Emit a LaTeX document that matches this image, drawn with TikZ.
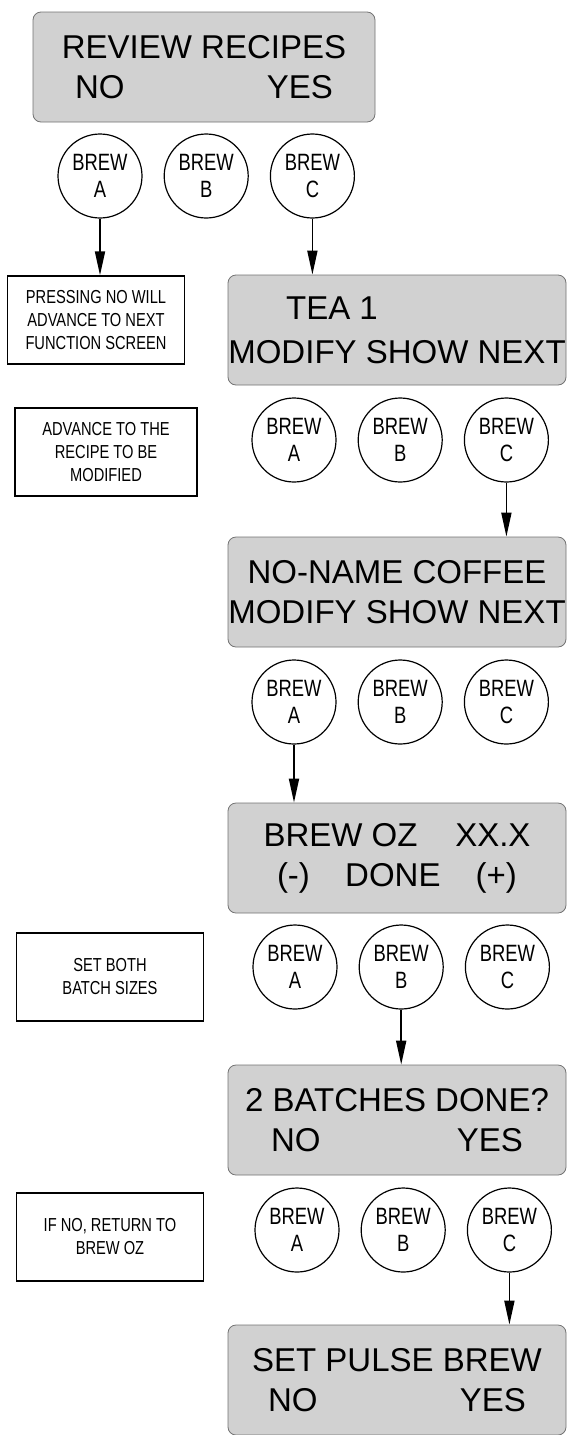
\documentclass[tikz,border=0pt]{standalone}
\usepackage{fontspec}
\setmainfont{Liberation Sans}
\newfontfamily\narrowfont[FakeStretch=0.78]{Liberation Sans}
\usetikzlibrary{arrows.meta,positioning}
\tikzset{
  screen/.style = {rectangle, rounded corners=4pt, draw=black!55, fill=black!18,
                   line width=0.4pt, minimum width=169pt, minimum height=55pt,
                   inner sep=0pt, align=center, font=\fontsize{16.5}{20}\selectfont},
  btn/.style    = {circle, draw=black, fill=white, line width=0.6pt,
                   minimum size=42pt, inner sep=0pt, align=center,
                   font=\narrowfont\fontsize{11.8}{13.5}\selectfont},
  note/.style   = {rectangle, draw=black, line width=0.7pt, minimum height=44pt,
                   inner sep=0pt, align=center,
                   font=\narrowfont\fontsize{9.4}{11.5}\selectfont},
  ar/.style     = {-{Triangle[length=12pt,width=5pt]}, draw=black, line width=0.9pt}
}
\begin{document}
\begin{tikzpicture}[x=0.5pt, y=-0.5pt, node distance=10.5pt]
  \useasboundingbox (0,0) rectangle (568,1435);
  % display screens
  \node[screen, minimum width=171pt] (s1) at (204,67) {REVIEW RECIPES\\\makebox[129pt]{NO\hfill YES}};
  \node[screen] (s2) at (397,330) {TEA 1\hspace*{65pt}\\[2pt]MODIFY SHOW NEXT};
  \node[screen] (s3) at (397,592) {NO-NAME COFFEE\\MODIFY SHOW NEXT};
  \node[screen] (s4) at (397,858) {\makebox[133.5pt]{BREW OZ\hfill XX.X}\\\makebox[120pt]{(-)\hfill DONE\hfill (+)}};
  \node[screen] (s5) at (397,1120) {2 BATCHES DONE?\\\makebox[126pt]{NO\hfill YES}};
  \node[screen] (s6) at (397,1380) {SET PULSE BREW\\\makebox[129pt]{NO\hfill YES}};
  % side notes
  \node[note, minimum width=88.5pt] (n1) at (96,320) {PRESSING NO WILL\\ADVANCE TO NEXT\\FUNCTION SCREEN};
  \node[note, minimum width=91pt] (n2) at (106,452) {ADVANCE TO THE\\RECIPE TO BE\\MODIFIED};
  \node[note, minimum width=93.5pt] (n3) at (110,977) {SET BOTH\\BATCH SIZES};
  \node[note, minimum width=93.5pt] (n4) at (110,1237) {IF NO, RETURN TO\\BREW OZ};
  % brew buttons
  \foreach \r/\x/\y in {1/100/176, 2/294/440, 3/294/702, 4/295/967, 5/297/1230} {
    \node[btn] (a\r) at (\x,\y) {BREW\\A};
    \node[btn, right=of a\r] (b\r) {BREW\\B};
    \node[btn, right=of b\r] (c\r) {BREW\\C};
  }
  \draw[ar] (a1) -- (a1 |- n1.north);
  \draw[ar] (c1) -- (c1 |- s2.north);
  \draw[ar] (c2) -- (c2 |- s3.north);
  \draw[ar] (a3) -- (a3 |- s4.north);
  \draw[ar] (b4) -- (b4 |- s5.north);
  \draw[ar] (c5) -- (c5 |- s6.north);
\end{tikzpicture}
\end{document}
